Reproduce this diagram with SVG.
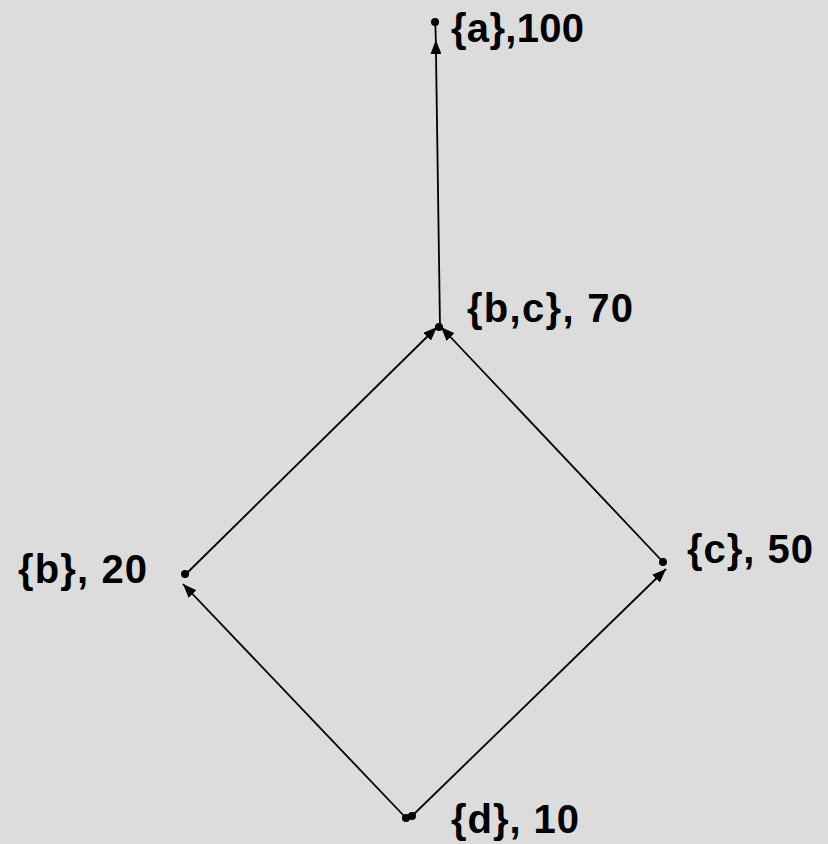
<svg xmlns="http://www.w3.org/2000/svg" width="828" height="844" viewBox="0 0 828 844">
<style>
.bg{fill:#dcdcdc}
.edge{stroke:#000;stroke-width:1.8;fill:none}
.dot{fill:#000}
.lbl{font-family:"Liberation Sans",Arial,sans-serif;font-weight:bold;font-size:40px;fill:#000}
</style>
<defs>
<marker id="arr" viewBox="0 0 14 11" refX="14" refY="5.5" markerWidth="14" markerHeight="11" markerUnits="userSpaceOnUse" orient="auto">
<path d="M0,0 L14,5.5 L0,11 z" fill="#000"/>
</marker>
</defs>
<rect class="bg" x="0" y="0" width="828" height="844"/>
<g id="connectors">
<path class="edge" d="M440,327 L435.8,40" marker-end="url(#arr)"/>
<path class="edge" d="M435.8,40 L435.3,22"/>
<path class="edge" d="M186,574 L437,327" marker-end="url(#arr)"/>
<path class="edge" d="M663,562 L441,327" marker-end="url(#arr)"/>
<path class="edge" d="M406,818 L183,584" marker-end="url(#arr)"/>
<path class="edge" d="M412,816 L666,569" marker-end="url(#arr)"/>
</g>
<g id="node-a">
<circle class="dot" cx="435" cy="22" r="4"/>
<text class="lbl" x="451" y="42" textLength="133" lengthAdjust="spacing">{a},100</text>
</g>
<g id="node-bc">
<circle class="dot" cx="439" cy="327" r="4"/>
<text class="lbl" x="467" y="322" textLength="166" lengthAdjust="spacing">{b,c}, 70</text>
</g>
<g id="node-b">
<circle class="dot" cx="185" cy="574" r="4"/>
<text class="lbl" x="18" y="583" textLength="129" lengthAdjust="spacing">{b}, 20</text>
</g>
<g id="node-c">
<circle class="dot" cx="663" cy="562" r="4"/>
<text class="lbl" x="687" y="563" textLength="126" lengthAdjust="spacing">{c}, 50</text>
</g>
<g id="node-d">
<circle class="dot" cx="406" cy="818" r="4"/>
<circle class="dot" cx="412" cy="816" r="4"/>
<text class="lbl" x="451" y="833" textLength="128" lengthAdjust="spacing">{d}, 10</text>
</g>
</svg>
